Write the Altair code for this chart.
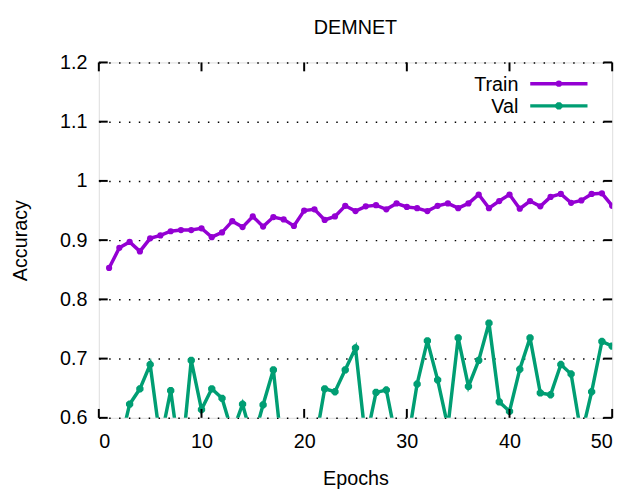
import altair as alt
import pandas as pd

epochs = list(range(1, 51))
train = [0.853, 0.887, 0.897, 0.881, 0.903, 0.908, 0.915, 0.917, 0.917, 0.920,
         0.905, 0.913, 0.932, 0.922, 0.940, 0.923, 0.939, 0.935, 0.924, 0.950,
         0.952, 0.934, 0.940, 0.958, 0.949, 0.957, 0.959, 0.952, 0.962, 0.956,
         0.954, 0.949, 0.958, 0.962, 0.954, 0.962, 0.977, 0.954, 0.966, 0.977,
         0.953, 0.966, 0.957, 0.973, 0.978, 0.963, 0.967, 0.978, 0.979, 0.958]
val = [0.55, 0.55, 0.623, 0.649, 0.690, 0.56, 0.646, 0.52, 0.697, 0.614,
       0.649, 0.633, 0.575, 0.623, 0.56, 0.622, 0.681, 0.52, 0.50, 0.52,
       0.55, 0.649, 0.644, 0.681, 0.718, 0.56, 0.643, 0.647, 0.56, 0.55,
       0.657, 0.730, 0.664, 0.585, 0.735, 0.653, 0.697, 0.760, 0.627, 0.611,
       0.682, 0.735, 0.642, 0.639, 0.690, 0.674, 0.57, 0.644, 0.729, 0.721]
series_names = ["Train", "Val"]
series_colors = ["#9400D3", "#009E73"]
x_ticks = [0, 10, 20, 30, 40, 50]
y_ticks = [0.6, 0.7, 0.8, 0.9, 1.0, 1.1, 1.2]
title_text = ["DEMNET"]

W, H = 520, 360
FONT = "Liberation Sans"
FS = 20
PURPLE, GREEN = series_colors

df = pd.DataFrame({
    "epoch": epochs * 2,
    "value": train + val,
    "series": ["Train"] * len(epochs) + ["Val"] * len(epochs),
})

xs = alt.Scale(domain=[0, 50], nice=False, zero=False)
ys = alt.Scale(domain=[0.6, 1.2], nice=False, zero=False)
cs = alt.Scale(domain=series_names, range=series_colors)

x_axis = alt.Axis(values=x_ticks, grid=False, domain=False, ticks=False,
                  labelPadding=14, labelFontSize=FS, labelFont=FONT, labelColor="black",
                  title="Epochs", titleFontSize=FS, titleFont=FONT, titleFontWeight="normal",
                  titleColor="black", titleBaseline="alphabetic", titleX=W / 2, titleY=68,
                  titleAnchor="middle")
y_axis = alt.Axis(values=y_ticks, format="~g", grid=True, gridColor="black",
                  gridDash=[1.5, 8.5], gridWidth=1.5, domain=False, ticks=False,
                  labelPadding=12, labelFontSize=FS, labelFont=FONT, labelColor="black",
                  title="Accuracy", titleFontSize=FS, titleFont=FONT, titleFontWeight="normal",
                  titleColor="black", titleAngle=270, titleBaseline="alphabetic",
                  titleAlign="center", titleX=-73, titleY=H / 2)

base = alt.Chart(df)
lines = base.mark_line(strokeWidth=3.5, clip=True).encode(
    x=alt.X("epoch:Q", scale=xs, axis=x_axis),
    y=alt.Y("value:Q", scale=ys, axis=y_axis),
    color=alt.Color("series:N", scale=cs, legend=None),
)
train_pts = base.transform_filter(alt.datum.series == "Train").mark_point(
    shape="circle", filled=True, size=40, opacity=1, clip=True, color=PURPLE
).encode(x=alt.X("epoch:Q", scale=xs), y=alt.Y("value:Q", scale=ys))

ASTER = "M -1 0 L 1 0 M 0 -1 L 0 1 M -0.7 -0.7 L 0.7 0.7 M -0.7 0.7 L 0.7 -0.7"
val_pts = base.transform_filter(alt.datum.series == "Val").mark_point(
    shape=ASTER, filled=False, size=55, strokeWidth=2.8, opacity=1, clip=True, color=GREEN
).encode(x=alt.X("epoch:Q", scale=xs), y=alt.Y("value:Q", scale=ys))

xt = pd.DataFrame({"t": x_ticks})
yt = pd.DataFrame({"t": y_ticks})
tick_bottom = alt.Chart(xt).mark_rule(color="black", strokeWidth=2).encode(
    x=alt.X("t:Q", scale=xs), y=alt.value(H), y2=alt.value(H - 9))
tick_top = alt.Chart(xt).mark_rule(color="black", strokeWidth=2).encode(
    x=alt.X("t:Q", scale=xs), y=alt.value(0), y2=alt.value(9))
tick_left = alt.Chart(yt).mark_rule(color="black", strokeWidth=2).encode(
    y=alt.Y("t:Q", scale=ys), x=alt.value(0), x2=alt.value(9))
tick_right = alt.Chart(yt).mark_rule(color="black", strokeWidth=2).encode(
    y=alt.Y("t:Q", scale=ys), x=alt.value(W), x2=alt.value(W - 9))

title_layer = alt.Chart(pd.DataFrame({"t": title_text})).mark_text(
    align="center", baseline="alphabetic", font=FONT, fontSize=FS, color="black"
).encode(text="t:N", x=alt.value(W / 2), y=alt.value(-29))

legend_layers = []
for i, (name, col) in enumerate(zip(series_names, series_colors)):
    ld = pd.DataFrame({"series": [name]})
    ly = 21.5 + 22.5 * i
    legend_layers.append(alt.Chart(ld).mark_text(
        align="right", baseline="alphabetic", font=FONT, fontSize=FS, color="black"
    ).encode(text="series:N", x=alt.value(425), y=alt.value(ly + 7.5)))
    legend_layers.append(alt.Chart(ld).mark_rule(color=col, strokeWidth=3.5).encode(
        x=alt.value(437), x2=alt.value(495), y=alt.value(ly)))
    if name == "Train":
        legend_layers.append(alt.Chart(ld).mark_point(
            shape="circle", filled=True, size=40, opacity=1, color=col
        ).encode(x=alt.value(466), y=alt.value(ly)))
    else:
        legend_layers.append(alt.Chart(ld).mark_point(
            shape=ASTER, filled=False, size=55, strokeWidth=2.8, opacity=1, color=col
        ).encode(x=alt.value(466), y=alt.value(ly)))

chart = alt.layer(
    lines, train_pts, val_pts, tick_bottom, tick_top, tick_left, tick_right,
    title_layer, *legend_layers
).properties(
    width=W, height=H,
    autosize=alt.AutoSizeParams(type="none"),
    padding={"left": 92, "top": 52, "right": 14, "bottom": 73},
).configure_view(stroke="black", strokeWidth=3).configure(background="white")

chart.save("out.html", embed_options={"renderer": "svg", "actions": False})
